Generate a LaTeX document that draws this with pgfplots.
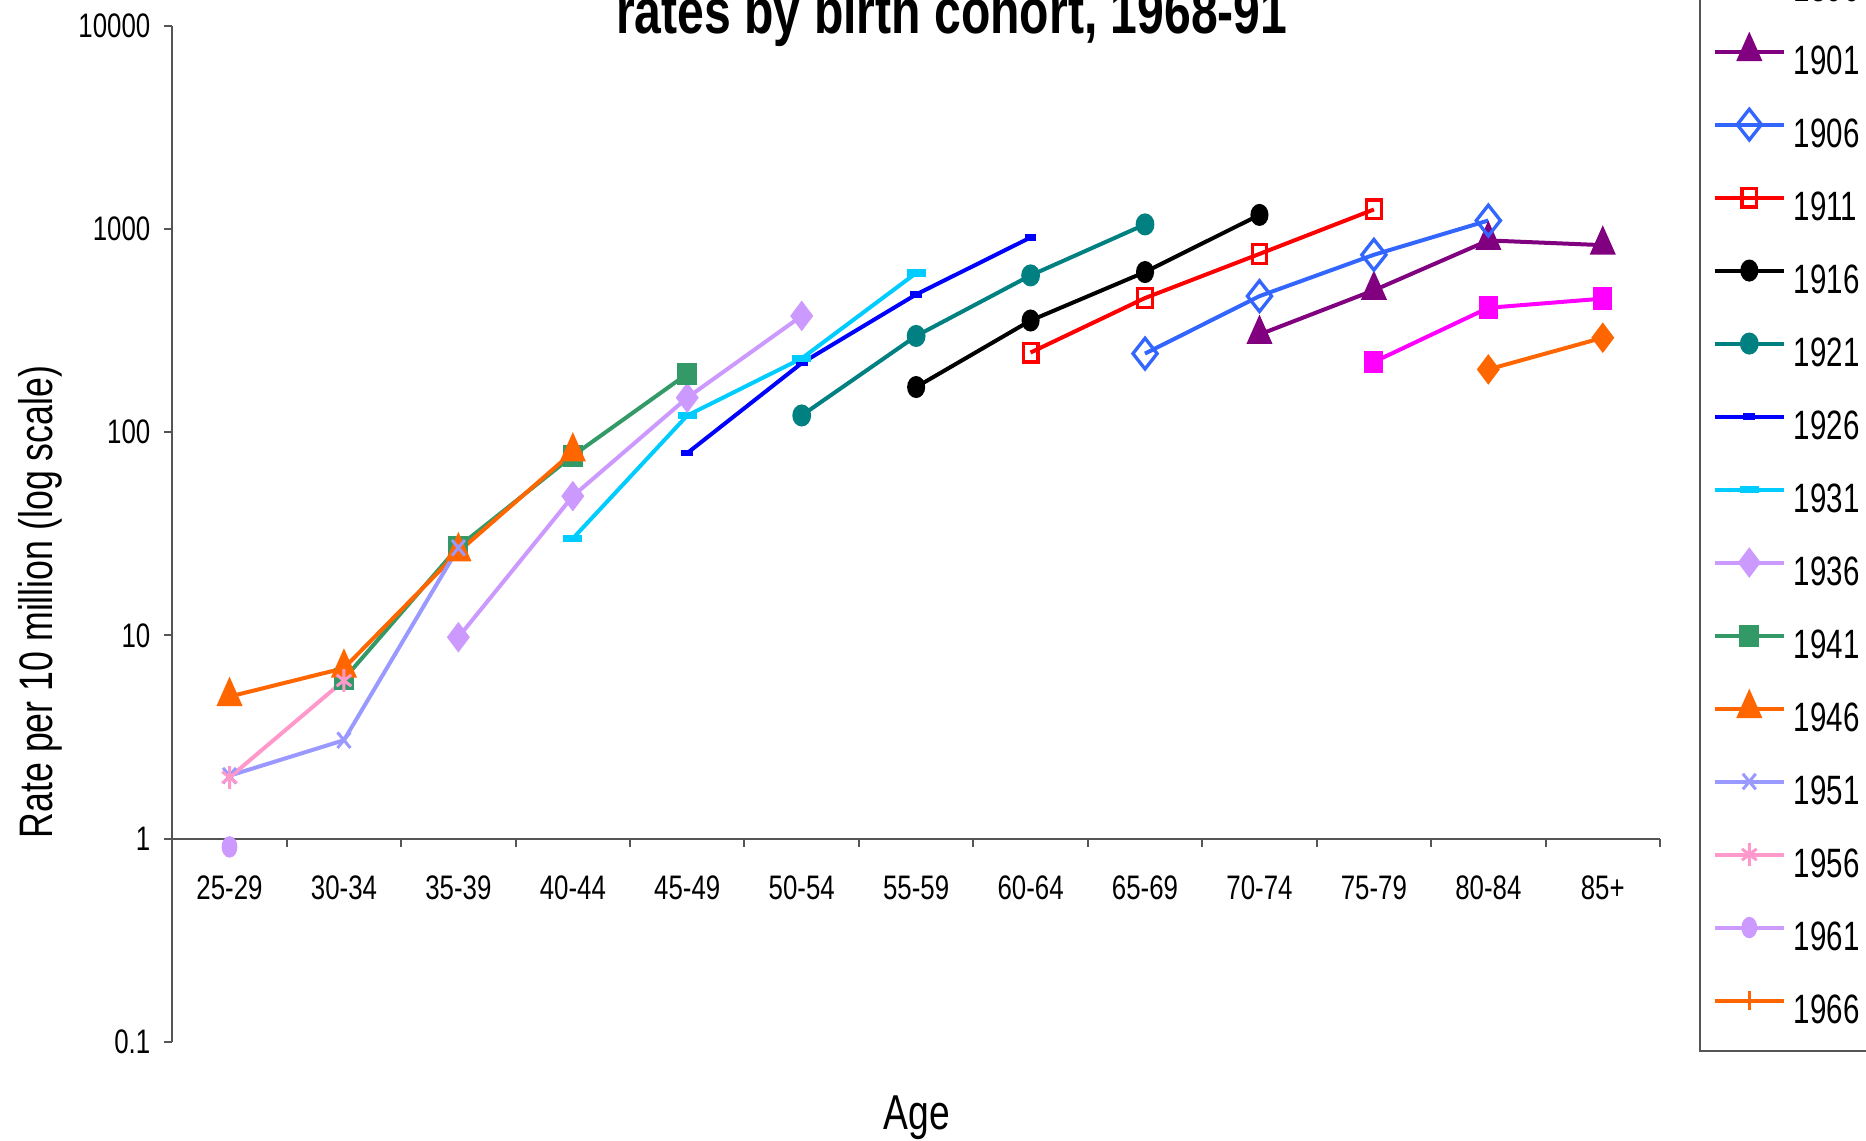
\documentclass[border=0pt]{standalone}
\usepackage{fontspec}
\setmainfont{Liberation Sans}[FakeStretch=0.76]
\newfontfamily\legendfont{Liberation Sans}[FakeStretch=0.72]
\usepackage{pgfplots}
\pgfplotsset{compat=1.18}

\definecolor{c1891}{HTML}{FF6600}
\definecolor{c1896}{HTML}{FF00FF}
\definecolor{c1901}{HTML}{800080}
\definecolor{c1906}{HTML}{3366FF}
\definecolor{c1911}{HTML}{FF0000}
\definecolor{c1916}{HTML}{000000}
\definecolor{c1921}{HTML}{008080}
\definecolor{c1926}{HTML}{0000FF}
\definecolor{c1931}{HTML}{00CCFF}
\definecolor{c1936}{HTML}{CC99FF}
\definecolor{c1941}{HTML}{339966}
\definecolor{c1946}{HTML}{FF6600}
\definecolor{c1951}{HTML}{9999FF}
\definecolor{c1956}{HTML}{FF99CC}
\definecolor{c1961}{HTML}{CC99FF}
\definecolor{c1966}{HTML}{FF6600}
\definecolor{axisgray}{HTML}{555555}

\begin{document}
\begin{tikzpicture}
% layout grid: 1 unit = 0.3pt, page 1866 x 1141 units
\path[use as bounding box] (0,0) rectangle (559.8pt,-342.3pt);
\clip (0,0) rectangle (559.8pt,-342.3pt);
\begin{axis}[
  at={(51.69pt,-312.51pt)}, anchor=south west,
  scale only axis, width=446.31pt, height=304.71pt,
  ymode=log, ymin=0.1, ymax=10000,
  xmin=-0.5, xmax=12.5,
  axis y line=left, axis x line=middle,
  hide obscured x ticks=false,
  axis line style={-, draw=axisgray, line width=0.6pt},
  every tick/.style={draw=axisgray, line width=0.6pt},
  tick align=outside,
  major tick length=2.4pt,
  ytick={0.1,1,10,100,1000,10000},
  yticklabels={0.1,1,10,100,1000,10000},
  yminorticks=false,
  xtick={-0.5,0.5,...,12.5},
  x tick label as interval,
  xticklabels={25-29,30-34,35-39,40-44,45-49,50-54,55-59,60-64,65-69,70-74,75-79,80-84,85+,},
  /pgf/number format/assume math mode=true,
  ticklabel style={font=\fontsize{10.2}{12}\selectfont},
  xticklabel style={anchor=base, yshift=-16pt},
  yticklabel style={anchor=east, inner sep=0pt, xshift=-4pt},
  every axis y label/.style={at={(axis description cs:-0.0802,0.4329)}, anchor=base, rotate=90,
    font=\fontsize{14.1}{16}\selectfont},
  every axis x label/.style={at={(axis description cs:0.5006,-0.0869)}, anchor=base,
    font=\fontsize{14.7}{17}\selectfont},
  every axis title/.style={at={(axis description cs:0.524,0.9931)}, anchor=base,
    font=\bfseries\fontsize{19}{22}\selectfont},
  title={rates by birth cohort, 1968-91},
  xlabel={Age},
  ylabel={Rate per 10 million (log scale)},
  legend style={
    at={(axis description cs:1.0262,-0.00985)}, anchor=south west,
    draw=axisgray, line width=0.5pt, fill=white,
    inner xsep=4.5pt, inner ysep=8.3pt,
    row sep=13.5pt, column sep=3pt,
    font=\legendfont\fontsize{12.3}{14}\selectfont,
    nodes={inner sep=0pt, text height=8.4pt, text depth=0pt},
  },
  legend cell align=left,
  % every legend row gets the same height: the sample line and its mark do not enlarge the cell
  legend image code/.code={%
    \path[draw=none, fill=none] (0pt,0pt) -- (20.7pt,0pt);
    \draw[overlay,mark repeat=2,mark phase=2,#1] plot coordinates {(0pt,2.6pt) (10.35pt,2.6pt) (20.7pt,2.6pt)};},
]
% cohort 1891
\addplot[c1891, line width=1.2pt, mark=diamond*, mark size=3.6pt, mark options={solid, fill=c1891}]
  coordinates {(11,204) (12,292)};
\addlegendentry{1891}
% cohort 1896
\addplot[c1896, line width=1.2pt, mark=square*, mark size=2.8pt, mark options={solid, fill=c1896, xscale=0.8}]
  coordinates {(10,222) (11,410) (12,455)};
\addlegendentry{1896}
% cohort 1901
\addplot[c1901, line width=1.2pt, mark=triangle*, mark size=4.5pt, mark options={solid, fill=c1901, xscale=0.77}]
  coordinates {(9,303) (10,500) (11,880) (12,834)};
\addlegendentry{1901}
% cohort 1906
\addplot[c1906, line width=1.2pt, mark=diamond, mark size=4.6pt, mark options={solid, xscale=1.05, line width=1pt}]
  coordinates {(8,244) (9,468) (10,748) (11,1103)};
\addlegendentry{1906}
% cohort 1911
\addplot[c1911, line width=1.2pt, mark=square, mark size=2.8pt, mark options={solid, xscale=0.78, line width=1pt}]
  coordinates {(7,247) (8,458) (9,755) (10,1250)};
\addlegendentry{1911}
% cohort 1916
\addplot[c1916, line width=1.2pt, mark=*, mark size=2.7pt, mark options={solid, fill=c1916, xscale=0.78}]
  coordinates {(6,167) (7,355) (8,615) (9,1175)};
\addlegendentry{1916}
% cohort 1921
\addplot[c1921, line width=1.2pt, mark=*, mark size=2.7pt, mark options={solid, fill=c1921, xscale=0.82}]
  coordinates {(5,121) (6,298) (7,592) (8,1055)};
\addlegendentry{1921}
% cohort 1926
\addplot[c1926, line width=1.2pt, mark=square*, mark size=1.6pt, mark options={solid, fill=c1926, yscale=0.5, line width=0pt}]
  coordinates {(4,79) (5,219) (6,477) (7,910)};
\addlegendentry{1926}
% cohort 1931
\addplot[c1931, line width=1.2pt, mark=square*, mark size=2.7pt, mark options={solid, fill=c1931, yscale=0.36, line width=0pt}]
  coordinates {(3,30) (4,121) (5,231) (6,608)};
\addlegendentry{1931}
% cohort 1936
\addplot[c1936, line width=1.2pt, mark=diamond*, mark size=3.6pt, mark options={solid, fill=c1936}]
  coordinates {(2,9.8) (3,48.5) (4,148) (5,374)};
\addlegendentry{1936}
% cohort 1941
\addplot[c1941, line width=1.2pt, mark=square*, mark size=2.7pt, mark options={solid, fill=c1941, xscale=0.89}]
  coordinates {(1,6.1) (2,27.3) (3,76.7) (4,194)};
\addlegendentry{1941}
% cohort 1946
\addplot[c1946, line width=1.2pt, mark=triangle*, mark size=4.5pt, mark options={solid, fill=c1946, xscale=0.77}]
  coordinates {(0,5.0) (1,6.9) (2,25.8) (3,80)};
\addlegendentry{1946}
% cohort 1951
\addplot[c1951, line width=1.2pt, mark=x, mark size=3.3pt, mark options={solid, xscale=0.83, line width=0.9pt}]
  coordinates {(0,2.04) (1,3.05) (2,27)};
\addlegendentry{1951}
% cohort 1956
\addplot[c1956, line width=1.2pt, mark=asterisk, mark size=3.4pt, mark options={solid, xscale=0.75, line width=0.9pt}]
  coordinates {(0,2.0) (1,6.0)};
\addlegendentry{1956}
% cohort 1961
\addplot[c1961, line width=1.2pt, mark=*, mark size=2.6pt, mark options={solid, fill=c1961, xscale=0.68}]
  coordinates {(0,0.91)};
\addlegendentry{1961}
% cohort 1966: no observations in the period
\addlegendimage{c1966, line width=1.2pt, mark=+, mark size=2.8pt, mark options={solid, line width=0.9pt}}
\addlegendentry{1966}
\end{axis}
\end{tikzpicture}
\end{document}
